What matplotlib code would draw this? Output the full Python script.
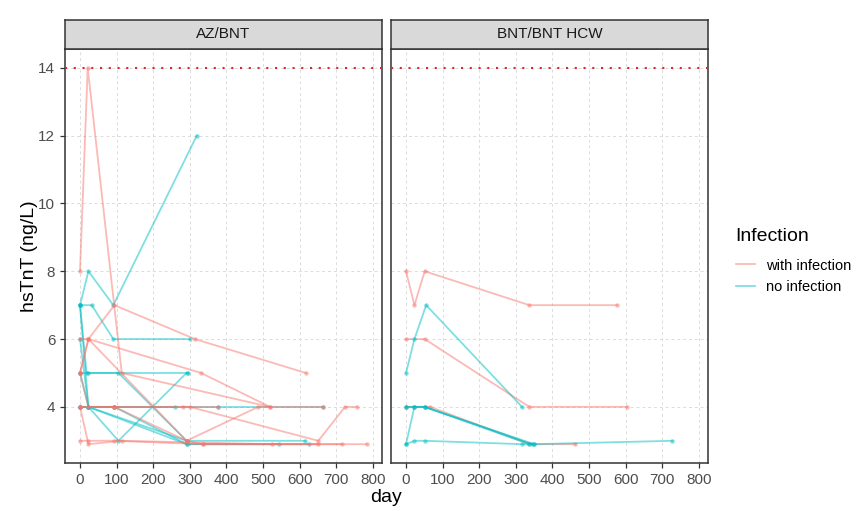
import matplotlib
matplotlib.use("Agg")
import matplotlib.pyplot as plt
from matplotlib.lines import Line2D

plt.rcParams["font.family"] = ["Liberation Sans", "DejaVu Sans"]

RED = "#F8766D"
CYAN = "#00BFC4"
CUTOFF = 14

PANELS = ["AZ/BNT", "BNT/BNT HCW"]
X_TICKS = [0, 100, 200, 300, 400, 500, 600, 700, 800]
Y_TICKS = [4, 6, 8, 10, 12, 14]

# AZ/BNT participants: day of sample, hsTnT value, infection flag
AZ_DAYS = [
    [0, 23, 91, 319],
    [0, 32, 91, 300],
    [0, 18, 296],
    [0, 23, 105, 291],
    [0, 23, 291, 615],
    [0, 23, 259],
    [0, 94, 291, 626],
    [0, 23, 291, 543],
    [0, 23, 105, 291],
    [0, 94, 378, 665],
    [0, 21, 114, 519],
    [0, 23, 94, 314, 617],
    [0, 94, 300, 651, 724, 756],
    [0, 23, 94, 291, 487, 665],
    [0, 23, 291, 337, 715],
    [0, 23, 94, 337, 783],
    [0, 23, 114, 524, 651],
    [0, 94, 282, 378],
    [0, 23, 331, 519],
]
AZ_VALS = [
    [7, 8, 7, 12],
    [7, 7, 6, 6],
    [7, 5, 5],
    [6, 4, 3, 5],
    [7, 4, 3, 3],
    [4, 4, 4],
    [4, 4, 2.9, 2.9],
    [5, 4, 2.9, 2.9],
    [5, 5, 5, 3],
    [4, 4, 4, 4],
    [8, 14, 5, 4],
    [6, 6, 7, 6, 5],
    [4, 4, 4, 3, 4, 4],
    [5, 4, 4, 3, 4, 4],
    [5, 6, 3, 2.9, 2.9],
    [3, 3, 3, 2.9, 2.9],
    [4, 2.9, 3, 2.9, 2.9],
    [4, 4, 4, 4],
    [5, 6, 5, 4],
]
AZ_INF = [False] * 10 + [True] * 9

# BNT/BNT health care workers
HCW_DAYS = [
    [0, 23, 51, 337, 576],
    [0, 51, 337, 604],
    [0, 23, 66, 337, 463],
    [0, 23, 55, 317],
    [0, 23, 51, 337],
    [0, 23, 51, 350],
    [0, 23, 51, 317, 350, 728],
    [0, 51, 345],
]
HCW_VALS = [
    [8, 7, 8, 7, 7],
    [6, 6, 4, 4],
    [4, 4, 4, 2.9, 2.9],
    [5, 6, 7, 4],
    [4, 4, 4, 2.9],
    [2.9, 4, 4, 2.9],
    [2.9, 3, 3, 2.9, 2.9, 3],
    [4, 4, 2.9],
]
HCW_INF = [True, True, True, False, False, False, False, False]

W, H = 860, 511
fig = plt.figure(figsize=(W / 100, H / 100), dpi=100)


def box(x0, y0, x1, y1):
    return [x0 / W, 1 - y1 / H, (x1 - x0) / W, (y1 - y0) / H]


def draw_panel(ax, days, vals, infected):
    for d, v, inf in zip(days, vals, infected):
        ax.plot(d, v, color=RED if inf else CYAN, alpha=0.5, lw=1.3,
                marker="o", ms=3.2, mew=0, zorder=3)
    ax.axhline(CUTOFF, color="#E0252B", linestyle=(0, (1, 3.2)), lw=1.5, zorder=4)
    ax.set_xlim(-41, 825)
    ax.set_ylim(2.345, 14.555)
    ax.set_xticks(X_TICKS)
    ax.set_yticks(Y_TICKS)
    ax.grid(True, color="#DCDCDC", linestyle=(0, (3, 3)), lw=0.7)
    ax.set_axisbelow(True)
    for s in ax.spines.values():
        s.set_color("#333333")
        s.set_linewidth(1.1)
    ax.tick_params(colors="#333333", labelcolor="#4D4D4D", labelsize=11,
                   length=3.5, width=0.9)


panel_x = [(65, 382), (391, 708)]
data = [(AZ_DAYS, AZ_VALS, AZ_INF), (HCW_DAYS, HCW_VALS, HCW_INF)]
for i, ((x0, x1), name, (d, v, inf)) in enumerate(zip(panel_x, PANELS, data)):
    ax = fig.add_axes(box(x0, 49, x1, 463))
    draw_panel(ax, d, v, inf)
    if i > 0:
        ax.tick_params(axis="y", left=False, labelleft=False)
    strip = fig.add_axes(box(x0, 20, x1, 49))
    strip.set_facecolor("#D9D9D9")
    strip.set_xticks([])
    strip.set_yticks([])
    for s in strip.spines.values():
        s.set_color("#333333")
        s.set_linewidth(1.1)
    strip.text(0.5, 0.5, name, ha="center", va="center", fontsize=11,
               color="#1A1A1A", transform=strip.transAxes)

fig.text(386 / W, 1 - 498 / H, "day", ha="center", va="center", fontsize=14)
fig.text(30 / W, 1 - 256 / H, "hsTnT (ng/L)", ha="center", va="center",
         rotation=90, fontsize=14)

handles = [
    Line2D([], [], color=RED, alpha=0.5, lw=1.3),
    Line2D([], [], color=CYAN, alpha=0.5, lw=1.3),
]
leg = fig.legend(handles, ["with infection", "no infection"], title="Infection",
                 loc="upper left", bbox_to_anchor=(724 / W, 1 - 216 / H),
                 frameon=False, fontsize=10.5, title_fontsize=14,
                 handlelength=1.3, handletextpad=0.8, labelspacing=0.5,
                 borderpad=0.3)
leg._legend_box.align = "left"
leg._legend_box.sep = 10

fig.savefig("out.png", dpi=100)
